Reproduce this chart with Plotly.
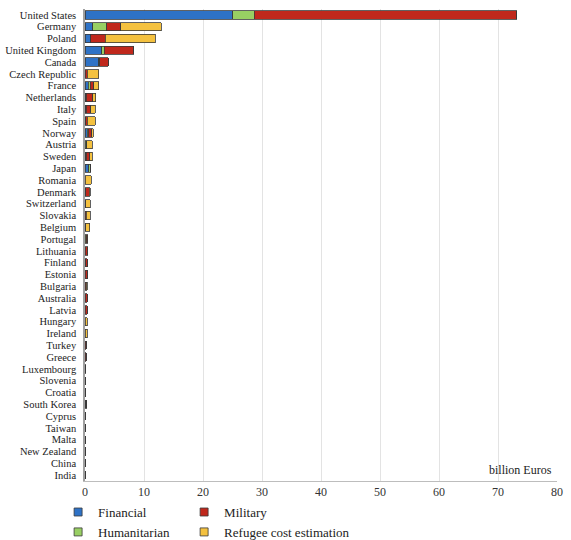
import plotly.graph_objects as go

countries = ["United States", "Germany", "Poland", "United Kingdom", "Canada", "Czech Republic",
             "France", "Netherlands", "Italy", "Spain", "Norway", "Austria", "Sweden", "Japan",
             "Romania", "Denmark", "Switzerland", "Slovakia", "Belgium", "Portugal", "Lithuania",
             "Finland", "Estonia", "Bulgaria", "Australia", "Latvia", "Hungary", "Ireland", "Turkey",
             "Greece", "Luxembourg", "Slovenia", "Croatia", "South Korea", "Cyprus", "Taiwan", "Malta",
             "New Zealand", "China", "India"]

financial = [25.0, 1.3, 0.85, 2.8, 2.3, 0.0,
             0.55, 0.15, 0.1, 0.05, 0.35, 0.0, 0.1, 0.6,
             0.0, 0.05, 0.0, 0.0, 0.0, 0.05, 0.0,
             0.0, 0.0, 0.0, 0.0, 0.0, 0.0, 0.0, 0.0,
             0.0, 0.02, 0.0, 0.0, 0.1, 0.0, 0.0, 0.0,
             0.0, 0.0, 0.0]
humanitarian = [3.7, 2.4, 0.1, 0.5, 0.2, 0.05,
                0.3, 0.1, 0.1, 0.05, 0.2, 0.3, 0.15, 0.35,
                0.02, 0.05, 0.1, 0.02, 0.05, 0.2, 0.05,
                0.1, 0.02, 0.02, 0.05, 0.02, 0.02, 0.02, 0.05,
                0.02, 0.05, 0.03, 0.03, 0.1, 0.02, 0.05, 0.01,
                0.01, 0.002, 0.003]
military = [44.5, 2.4, 2.45, 5.0, 1.4, 0.35,
            0.65, 1.05, 0.75, 0.25, 0.6, 0.0, 0.55, 0.05,
            0.05, 0.6, 0.0, 0.2, 0.1, 0.15, 0.3,
            0.3, 0.35, 0.2, 0.35, 0.35, 0.0, 0.0, 0.2,
            0.2, 0.05, 0.05, 0.05, 0.1, 0.01, 0.0, 0.0,
            0.04, 0.0, 0.0]
refugee = [0.0, 6.8, 8.5, 0.0, 0.0, 1.9,
           0.8, 0.55, 0.75, 1.35, 0.25, 0.9, 0.4, 0.0,
           0.95, 0.2, 0.75, 0.65, 0.65, 0.1, 0.1,
           0.0, 0.0, 0.2, 0.0, 0.0, 0.33, 0.33, 0.0,
           0.0, 0.0, 0.0, 0.0, 0.0, 0.0, 0.0, 0.0,
           0.0, 0.0, 0.0]
x_ticks = [0, 10, 20, 30, 40, 50, 60, 70, 80]

series = [
    ("Financial", financial, "#2e72c6", "legend"),
    ("Humanitarian", humanitarian, "#98cf63", "legend"),
    ("Military", military, "#c0281c", "legend2"),
    ("Refugee cost estimation", refugee, "#f4c13f", "legend2"),
]

fig = go.Figure()
for name, vals, color, lg in series:
    fig.add_trace(go.Bar(
        y=countries, x=vals, name=name, orientation="h",
        marker=dict(color=color, line=dict(color="#3a3a3a", width=0.8)),
        showlegend=False,
    ))
# legend entries with small square symbols
for name, vals, color, lg in series:
    fig.add_trace(go.Scatter(
        x=[None], y=[None], mode="markers", name=name, legend=lg,
        marker=dict(symbol="square", size=8, color=color, line=dict(color="#3a3a3a", width=0.8)),
    ))

ff = "'Liberation Serif', 'Times New Roman', 'DejaVu Serif', serif"
leg_common = dict(orientation="v", xanchor="left", yanchor="middle",
                  font=dict(size=13, family=ff, color="#222222"),
                  itemwidth=30, traceorder="normal", bgcolor="rgba(0,0,0,0)",
                  tracegroupgap=0)
fig.update_layout(
    barmode="stack",
    bargap=0.3,
    width=571, height=540,
    margin=dict(l=85, r=14, t=9, b=59, autoexpand=False),
    paper_bgcolor="white", plot_bgcolor="white",
    font=dict(family=ff, color="#222222"),
    xaxis=dict(range=[0, 80], tickmode="array", tickvals=x_ticks, showgrid=True,
               gridcolor="#e3e3e3", gridwidth=1, automargin=False,
               zeroline=False, showline=True, linecolor="#bdbdbd", linewidth=1,
               tickfont=dict(size=12, family=ff, color="#333333"), ticks="", ticklen=0),
    yaxis=dict(categoryorder="array", categoryarray=countries, autorange="reversed",
               tickmode="array", tickvals=countries, automargin=False,
               showline=True, linecolor="#a0a0a0", linewidth=1.5, showgrid=False,
               tickfont=dict(size=10.5, family=ff, color="#222222"), ticks="",
               ticklabelstandoff=5),
    legend=dict(x=-0.057, y=-0.087, **leg_common),
    legend2=dict(x=0.21, y=-0.087, **leg_common),
    annotations=[dict(text="billion Euros", x=79.5, y=0.004, xref="x", yref="paper",
                      xanchor="right", yanchor="bottom", showarrow=False,
                      font=dict(size=12, family=ff, color="#222222"))],
)
fig.write_html("out.html", config={"displayModeBar": False},
               post_script="document.body.style.margin='0px';")
